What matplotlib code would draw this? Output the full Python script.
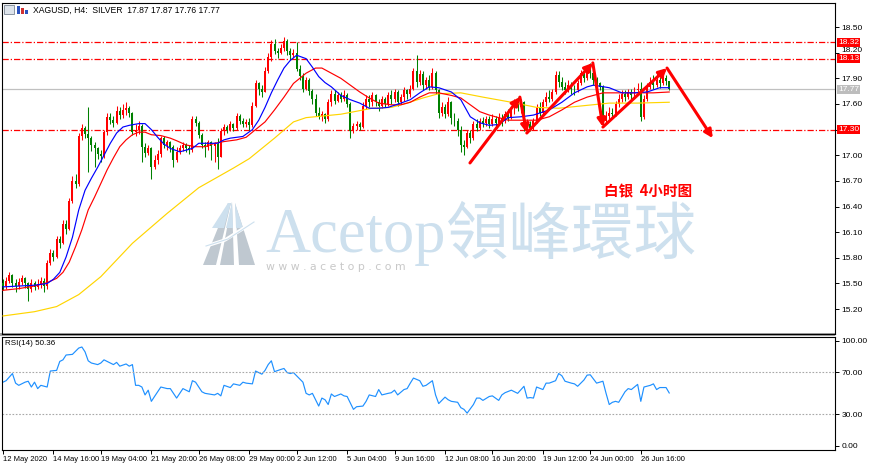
import numpy as np
import matplotlib.pyplot as plt
import matplotlib.transforms as mtransforms
from matplotlib.patches import Polygon, Rectangle

plt.rcParams['font.family'] = ['Liberation Sans', 'DejaVu Sans', 'Noto Sans CJK SC']

# ---- H4 candles (bar index 0 = 12 May 2020 00:00) ----
first_open = 15.50
closes = [
    15.47, 15.53, 15.60, 15.51, 15.47, 15.52, 15.56, 15.50, 15.44, 15.50,
    15.46, 15.49, 15.53, 15.47, 15.74, 15.86, 15.81, 16.02, 15.97, 16.20,
    16.14, 16.46, 16.70, 16.66, 17.22, 17.32, 17.25, 17.20, 17.12, 17.08,
    17.02, 16.99, 17.27, 17.45, 17.41, 17.38, 17.52, 17.47, 17.53, 17.55,
    17.49, 17.27, 17.30, 17.34, 17.10, 17.03, 17.08, 16.86, 16.95, 17.02,
    17.20, 17.12, 17.15, 17.10, 16.95, 17.04, 17.08, 17.12, 17.08, 17.06,
    17.42, 17.38, 17.24, 17.12, 17.10, 17.15, 17.11, 17.13, 16.98, 17.28,
    17.33, 17.30, 17.37, 17.32, 17.46, 17.40, 17.37, 17.39, 17.35, 17.58,
    17.84, 17.78, 17.74, 17.99, 18.15, 18.30, 18.22, 18.20, 18.26, 18.34,
    18.22, 18.17, 18.20, 18.01, 17.93, 17.78, 17.88, 17.75, 17.66, 17.50,
    17.46, 17.48, 17.42, 17.62, 17.72, 17.64, 17.70, 17.66, 17.70, 17.60,
    17.28, 17.34, 17.36, 17.33, 17.58, 17.66, 17.62, 17.70, 17.62, 17.58,
    17.66, 17.60, 17.70, 17.66, 17.74, 17.62, 17.68, 17.76, 17.72, 17.78,
    17.98, 17.86, 17.95, 17.82, 17.88, 17.80, 17.96, 17.76, 17.50, 17.56,
    17.48, 17.62, 17.44, 17.40, 17.30, 17.12, 17.10, 17.26, 17.20, 17.36,
    17.32, 17.40, 17.38, 17.42, 17.36, 17.42, 17.38, 17.44, 17.40, 17.48,
    17.44, 17.52, 17.60, 17.56, 17.62, 17.32, 17.36, 17.32, 17.40, 17.56,
    17.50, 17.62, 17.68, 17.66, 17.74, 17.94, 17.86, 17.80, 17.76, 17.82,
    17.78, 17.76, 17.84, 17.96, 17.90, 18.00, 17.96, 17.88, 17.84, 17.80,
    17.40, 17.46, 17.50, 17.48, 17.60, 17.66, 17.72, 17.68, 17.74, 17.70,
    17.76, 17.78, 17.45, 17.66, 17.80, 17.86, 17.82, 17.88, 17.84, 17.90,
    17.87, 17.77]
highs = [
    15.55, 15.58, 15.63, 15.61, 15.55, 15.56, 15.60, 15.58, 15.52, 15.55,
    15.53, 15.55, 15.58, 15.56, 15.78, 15.90, 15.89, 16.06, 16.05, 16.24,
    16.24, 16.50, 16.76, 16.78, 17.26, 17.36, 17.34, 17.56, 17.22, 17.16,
    17.10, 17.06, 17.30, 17.50, 17.50, 17.46, 17.58, 17.56, 17.60, 17.62,
    17.58, 17.51, 17.36, 17.40, 17.36, 17.14, 17.12, 17.10, 17.00, 17.06,
    17.23, 17.22, 17.18, 17.17, 17.12, 17.10, 17.12, 17.15, 17.14, 17.12,
    17.46, 17.46, 17.40, 17.26, 17.15, 17.18, 17.17, 17.16, 17.20, 17.32,
    17.36, 17.35, 17.40, 17.38, 17.49, 17.48, 17.43, 17.42, 17.43, 17.62,
    17.88, 17.86, 17.82, 18.03, 18.20, 18.35, 18.36, 18.26, 18.30, 18.38,
    18.36, 18.25, 18.24, 18.32, 18.05, 17.96, 17.92, 17.90, 17.78, 17.72,
    17.56, 17.52, 17.50, 17.66, 17.76, 17.76, 17.74, 17.74, 17.76, 17.73,
    17.62, 17.38, 17.40, 17.39, 17.62, 17.70, 17.70, 17.74, 17.72, 17.66,
    17.69, 17.68, 17.74, 17.76, 17.78, 17.76, 17.72, 17.80, 17.78, 17.82,
    18.02, 18.17, 18.00, 17.98, 17.92, 17.94, 18.02, 17.98, 17.78, 17.62,
    17.60, 17.68, 17.64, 17.50, 17.44, 17.34, 17.18, 17.30, 17.30, 17.40,
    17.42, 17.44, 17.45, 17.46, 17.46, 17.48, 17.46, 17.50, 17.48, 17.52,
    17.54, 17.56, 17.66, 17.68, 17.66, 17.64, 17.42, 17.40, 17.44, 17.60,
    17.62, 17.66, 17.74, 17.76, 17.78, 17.98, 17.98, 17.92, 17.86, 17.88,
    17.86, 17.82, 17.88, 18.00, 18.02, 18.04, 18.08, 18.00, 17.92, 17.86,
    17.82, 17.52, 17.56, 17.55, 17.64, 17.72, 17.76, 17.76, 17.78, 17.78,
    17.80, 17.84, 17.86, 17.70, 17.84, 17.92, 17.94, 17.96, 17.92, 17.95,
    17.94, 17.87]
lows = [
    15.42, 15.44, 15.50, 15.46, 15.40, 15.44, 15.48, 15.45, 15.30, 15.40,
    15.42, 15.43, 15.45, 15.40, 15.44, 15.72, 15.76, 15.80, 15.92, 15.96,
    16.08, 16.12, 16.44, 16.62, 16.64, 17.18, 17.20, 16.80, 17.05, 16.86,
    16.96, 16.92, 16.97, 17.24, 17.36, 17.33, 17.36, 17.42, 17.44, 17.47,
    17.45, 17.24, 17.22, 17.25, 16.92, 16.98, 17.00, 16.72, 16.84, 16.90,
    16.98, 17.08, 17.06, 17.04, 16.86, 16.92, 17.02, 17.05, 17.04, 17.02,
    17.04, 17.34, 17.20, 17.08, 16.98, 17.06, 16.95, 16.92, 16.84, 16.98,
    17.24, 17.26, 17.28, 17.28, 17.30, 17.36, 17.33, 17.33, 17.30, 17.33,
    17.56, 17.70, 17.68, 17.74, 17.96, 18.10, 18.18, 18.14, 18.18, 18.22,
    18.17, 18.12, 18.14, 17.98, 17.88, 17.74, 17.76, 17.70, 17.60, 17.46,
    17.42, 17.40, 17.38, 17.40, 17.58, 17.60, 17.62, 17.62, 17.64, 17.56,
    17.20, 17.26, 17.30, 17.29, 17.32, 17.54, 17.56, 17.58, 17.58, 17.52,
    17.55, 17.56, 17.58, 17.60, 17.62, 17.58, 17.60, 17.64, 17.66, 17.68,
    17.76, 17.80, 17.82, 17.76, 17.78, 17.76, 17.78, 17.72, 17.44, 17.46,
    17.44, 17.46, 17.36, 17.34, 17.22, 17.04, 17.00, 17.08, 17.14, 17.18,
    17.28, 17.30, 17.33, 17.34, 17.32, 17.34, 17.32, 17.36, 17.34, 17.38,
    17.40, 17.42, 17.48, 17.52, 17.50, 17.28, 17.30, 17.28, 17.30, 17.38,
    17.46, 17.48, 17.58, 17.62, 17.64, 17.72, 17.80, 17.76, 17.72, 17.74,
    17.72, 17.70, 17.74, 17.82, 17.86, 17.88, 17.90, 17.82, 17.78, 17.76,
    17.34, 17.38, 17.42, 17.44, 17.46, 17.56, 17.62, 17.64, 17.66, 17.66,
    17.68, 17.70, 17.40, 17.42, 17.64, 17.78, 17.78, 17.80, 17.79, 17.82,
    17.82, 17.76]
opens = [first_open] + closes[:-1]

# ---- moving averages (bar, price) ----
ma_blue_bars = [0, 5, 10, 14, 16, 18, 20, 22, 24, 26, 28, 30, 32, 34, 36, 38, 40, 43, 45,
                47, 49, 51, 53, 56, 60, 62, 65, 68, 70, 72, 76, 79, 81, 83, 85, 87, 89,
                91, 93, 96, 98, 100, 102, 104, 107, 110, 113, 116, 119, 122, 126, 129,
                132, 135, 138, 142, 145, 148, 151, 154, 157, 160, 164, 168, 173, 177,
                181, 185, 187, 192, 196, 200, 204, 208, 211]
ma_blue_vals = [15.46, 15.47, 15.48, 15.50, 15.55, 15.63, 15.81, 16.04, 16.36, 16.59,
                16.73, 16.86, 17.00, 17.14, 17.26, 17.33, 17.35, 17.37, 17.37, 17.30,
                17.21, 17.13, 17.08, 17.04, 17.08, 17.14, 17.14, 17.14, 17.18, 17.20,
                17.22, 17.30, 17.41, 17.56, 17.73, 17.88, 18.02, 18.11, 18.17, 18.13,
                18.03, 17.92, 17.85, 17.80, 17.70, 17.65, 17.61, 17.55, 17.55, 17.56,
                17.61, 17.65, 17.73, 17.80, 17.79, 17.74, 17.65, 17.45, 17.38, 17.35,
                17.36, 17.44, 17.45, 17.47, 17.53, 17.62, 17.73, 17.80, 17.82, 17.79,
                17.73, 17.73, 17.74, 17.79, 17.79]
ma_red_bars = [0, 5, 10, 14, 17, 19, 21, 23, 25, 27, 29, 31, 33, 35, 37, 39, 41, 43, 45,
               47, 50, 53, 55, 58, 61, 64, 67, 70, 74, 77, 80, 83, 86, 89, 92, 96, 99,
               101, 104, 107, 110, 113, 116, 119, 123, 126, 129, 132, 135, 138, 142,
               145, 148, 151, 154, 157, 160, 164, 169, 173, 177, 181, 185, 190, 194,
               198, 202, 206, 211]
ma_red_vals = [15.42, 15.44, 15.47, 15.51, 15.56, 15.63, 15.75, 15.93, 16.13, 16.36,
               16.51, 16.67, 16.83, 16.97, 17.10, 17.18, 17.24, 17.27, 17.27, 17.24,
               17.23, 17.20, 17.17, 17.12, 17.10, 17.10, 17.14, 17.16, 17.18, 17.21,
               17.30, 17.39, 17.53, 17.68, 17.84, 17.96, 18.02, 18.02, 17.96, 17.90,
               17.82, 17.74, 17.67, 17.61, 17.59, 17.59, 17.62, 17.68, 17.73, 17.73,
               17.70, 17.67, 17.59, 17.51, 17.47, 17.44, 17.41, 17.41, 17.41, 17.45,
               17.53, 17.62, 17.68, 17.73, 17.73, 17.73, 17.73, 17.73, 17.74]
ma_gold_bars = [0, 10, 17, 24, 31, 41, 52, 62, 73, 78, 86, 92, 96, 107, 117, 123, 128,
                133, 138, 145, 152, 161, 169, 176, 184, 192, 201, 211]
ma_gold_vals = [15.12, 15.17, 15.23, 15.37, 15.58, 15.97, 16.32, 16.62, 16.85, 16.96,
                17.20, 17.39, 17.44, 17.48, 17.55, 17.56, 17.61, 17.67, 17.72, 17.73,
                17.68, 17.62, 17.56, 17.55, 17.58, 17.61, 17.61, 17.62]

# ---- RSI(14) (bar, value) ----
rsi_bars = [0, 1, 3, 4, 5, 7, 8, 9, 10, 11, 12, 14, 15, 17, 18, 19, 20, 22, 23, 24, 25,
            26, 27, 28, 30, 31, 32, 34, 35, 36, 37, 39, 40, 41, 42, 43, 44, 45, 46, 47,
            48, 50, 52, 53, 55, 57, 59, 60, 61, 63, 64, 67, 68, 69, 70, 72, 73, 75, 76,
            77, 79, 80, 82, 83, 84, 85, 86, 88, 89, 90, 91, 92, 94, 95, 96, 97, 98, 100,
            101, 102, 103, 104, 105, 107, 108, 109, 111, 112, 114, 115, 116, 118, 119,
            120, 122, 123, 124, 125, 127, 128, 129, 130, 132, 133, 134, 136, 137, 138,
            140, 141, 142, 144, 145, 146, 147, 149, 150, 151, 152, 154, 155, 157, 158,
            159, 161, 162, 163, 165, 166, 167, 168, 169, 171, 172, 173, 175, 176, 177,
            178, 180, 181, 182, 184, 185, 186, 187, 188, 190, 191, 192, 193, 194, 195,
            197, 198, 199, 201, 202, 203, 205, 206, 207, 208, 210, 211]
rsi_vals = [60.6, 62.0, 68.8, 59.7, 57.6, 60.6, 61.5, 56.0, 60.6, 54.5, 57.6, 56.0, 71.2,
            71.8, 80.3, 81.8, 86.4, 87.0, 90.0, 93.0, 94.0, 89.4, 80.9, 78.8, 77.3, 78.8,
            81.8, 78.8, 77.3, 79.4, 75.8, 77.9, 75.8, 77.3, 57.6, 57.6, 56.0, 48.5, 53.0,
            42.4, 47.0, 56.0, 54.5, 54.5, 45.5, 54.5, 51.5, 62.0, 60.6, 51.5, 50.0, 48.5,
            50.0, 47.6, 57.6, 55.5, 59.0, 57.6, 60.6, 59.7, 59.0, 71.2, 68.2, 71.8, 77.3,
            80.9, 70.6, 72.7, 73.6, 69.7, 68.8, 69.7, 63.6, 60.6, 50.0, 48.5, 50.0, 37.9,
            45.5, 43.9, 39.4, 49.4, 47.0, 49.4, 47.6, 47.0, 34.8, 37.3, 37.9, 42.4, 48.5,
            47.0, 53.6, 48.5, 50.0, 50.6, 53.0, 48.5, 53.6, 54.5, 59.7, 64.5, 62.0, 56.7,
            57.6, 62.0, 48.5, 40.3, 46.4, 43.9, 42.4, 41.5, 36.4, 34.8, 31.2, 39.4, 45.5,
            45.5, 43.3, 47.0, 47.6, 43.3, 48.5, 50.6, 53.0, 51.5, 50.0, 56.7, 45.5, 46.0,
            45.5, 56.0, 53.6, 59.7, 59.7, 62.0, 68.8, 66.7, 61.5, 59.7, 59.0, 56.7, 62.7,
            67.3, 67.6, 63.6, 59.7, 61.5, 50.0, 39.4, 41.5, 42.4, 41.5, 51.5, 54.5, 53.6,
            58.5, 42.4, 56.0, 57.6, 59.0, 53.6, 55.5, 55.5, 50.36]

date_ticks = [0, 16, 31, 47, 62, 78, 93, 109, 124, 140, 155, 171, 186, 202]
date_labels = ['12 May 2020', '14 May 16:00', '19 May 04:00', '21 May 20:00',
               '26 May 08:00', '29 May 00:00', '2 Jun 12:00', '5 Jun 04:00',
               '9 Jun 16:00', '12 Jun 08:00', '16 Jun 20:00', '19 Jun 12:00',
               '24 Jun 00:00', '26 Jun 16:00']
price_ticks = [18.50, 18.20, 17.90, 17.60, 17.30, 17.00, 16.70, 16.40, 16.10,
               15.80, 15.50, 15.20]
levels = [18.32, 18.13, 17.30]
last_price = 17.77
# hand-drawn zigzag arrows (bar, price)
arrow_bars = [147.9, 163.7, 165.9, 186.8, 190.0, 210.3, 224.8]
arrow_prices = [16.91, 17.68, 17.26, 18.08, 17.33, 18.02, 17.20]

W, H = 870, 468
fig = plt.figure(figsize=(W / 100, H / 100), dpi=100)
fig.patch.set_facecolor('white')

# pixel-space overlay for watermark and header decorations
wm = fig.add_axes([0, 0, 1, 1], zorder=0)
wm.set_xlim(0, W)
wm.set_ylim(H, 0)
wm.axis('off')

ax = fig.add_axes([2 / W, 1 - 334 / H, 833 / W, 331 / H], zorder=2)
rx = fig.add_axes([2 / W, 1 - 450 / H, 833 / W, 113 / H], zorder=2)
for a in (ax, rx):
    a.set_facecolor('none')
    for s in a.spines.values():
        s.set_linewidth(0.8)
        s.set_color('black')
    a.set_xlim(-0.3, 263.5)
    a.yaxis.tick_right()
    a.tick_params(axis='y', direction='out', length=3, width=0.7, labelsize=6, pad=1.5)

# ---- candles ----
x = np.arange(len(closes))
o = np.array(opens)
c = np.array(closes)
cols = np.where(c >= o, '#ff0000', '#008000')
ax.vlines(x, lows, highs, colors=cols, lw=0.75, zorder=3)
ax.bar(x, np.maximum(np.abs(c - o), 0.008), bottom=np.minimum(o, c), width=0.62,
       color=cols, linewidth=0, zorder=3)

ax.plot(ma_gold_bars, ma_gold_vals, color='#ffd500', lw=0.85, zorder=4)
ax.plot(ma_red_bars, ma_red_vals, color='#ff0000', lw=0.85, zorder=4)
ax.plot(ma_blue_bars, ma_blue_vals, color='#0000ff', lw=0.85, zorder=4)

ax.axhline(last_price, color='#c0c0c0', lw=0.9, zorder=2)
for lv in levels:
    ax.axhline(lv, color='#ff0000', lw=0.9, dashes=(5, 1.6, 1, 1.6), zorder=2)

for i in range(len(arrow_bars) - 1):
    ax.annotate('', xy=(arrow_bars[i + 1], arrow_prices[i + 1]),
                xytext=(arrow_bars[i], arrow_prices[i]),
                arrowprops=dict(arrowstyle='-|>', color='#ff0000', lw=2.2,
                                mutation_scale=12, shrinkA=0, shrinkB=0),
                zorder=6)

ax.set_ylim(14.909, 18.781)
ax.set_yticks(price_ticks)
ax.set_yticklabels(['' if abs(p - 17.30) < 1e-6 else '%.2f' % p for p in price_ticks])
ax.set_xticks([])
# the 18.20 label sits just above the 18.13 marker box, as in the terminal
lift = mtransforms.ScaledTranslation(0, 2.2 / 72, fig.dpi_scale_trans)
for lab in ax.get_yticklabels():
    if lab.get_text() == '18.20':
        lab.set_transform(lab.get_transform() + lift)

trans = mtransforms.blended_transform_factory(ax.transAxes, ax.transData)
for lv in levels:
    ax.text(1.0 + 3 / 833, lv, '%.2f' % lv, transform=trans, ha='left', va='center',
            fontsize=6, color='white', zorder=7,
            bbox=dict(boxstyle='square,pad=0.12', fc='#ff0000', ec='none'))
ax.text(1.0 + 3 / 833, last_price, '%.2f' % last_price, transform=trans, ha='left',
        va='center', fontsize=6, color='white', zorder=7,
        bbox=dict(boxstyle='square,pad=0.12', fc='#bdbdbd', ec='none'))

# ---- RSI panel ----
rx.plot(rsi_bars, rsi_vals, color='#1e90ff', lw=0.85)
for lv in (70, 30):
    rx.axhline(lv, color='#a8a8a8', lw=0.8, dashes=(1.5, 1.5))
rx.set_ylim(-3.8, 103.5)
rx.set_yticks([100, 70, 30, 0])
rx.set_yticklabels(['100.00', '70.00', '30.00', '0.00'])
rx.set_xticks(date_ticks)
rx.set_xticklabels(date_labels, ha='left')
rx.tick_params(axis='x', direction='out', length=3, width=0.7, labelsize=5.5, pad=1.5)
rx.text(0.004, 0.945, 'RSI(14) 50.36', transform=rx.transAxes, fontsize=5.8,
        ha='left', va='center')

# separator band between panels
wm.add_patch(Rectangle((0, 333), 835, 3, color='#a0a0a0', lw=0, zorder=5))

# ---- header ----
wm.add_patch(Rectangle((4, 5), 10, 9, fc='#dde3ea', ec='#7a8594', lw=0.6))
wm.add_patch(Rectangle((17, 6), 3, 8, fc='#2a52be', lw=0))
wm.add_patch(Rectangle((21, 8), 3, 6, fc='#d03030', lw=0))
wm.add_patch(Rectangle((25, 10), 3, 4, fc='#2a52be', lw=0))
wm.text(33, 10, 'XAGUSD, H4:  SILVER  17.87 17.87 17.76 17.77', fontsize=6.2,
        ha='left', va='center')

# ---- watermark ----
wm_blue = '#cde0ee'
wm_grey = '#bfc8d0'
wm.add_patch(Polygon([(203, 265), (216, 265), (231, 203), (228, 203)], fc=wm_grey, lw=0))
wm.add_patch(Polygon([(220, 265), (234, 265), (232, 202)], fc=wm_grey, lw=0))
wm.add_patch(Polygon([(239, 265), (255, 265), (235, 203)], fc=wm_grey, lw=0))
wm.add_patch(Polygon([(212, 228), (224, 228), (231, 203), (228, 203)], fc=wm_blue, lw=0))
wm.add_patch(Polygon([(226, 228), (233, 228), (232, 202)], fc=wm_blue, lw=0))
wm.add_patch(Polygon([(243, 228), (236, 228), (235, 203)], fc=wm_blue, lw=0))
wm.plot([203, 225, 252], [247, 240, 223], color='white', lw=2.4)
wm.plot([206, 228, 254], [246, 239, 222], color=wm_blue, lw=0.8)

t_main = wm.text(265, 252, 'Acetop', family='Liberation Serif', fontsize=45,
                 color=wm_blue, ha='left', va='baseline')
fig.canvas.draw()
bb = t_main.get_window_extent()
cjk_x = wm.transData.inverted().transform((bb.x1 + 1, 0))[0]
wm.text(cjk_x, 236, '領峰環球', family=['Noto Sans CJK TC'], fontsize=45, color=wm_blue,
        ha='left', va='center')
wm.text(266, 267, 'w w w . a c e t o p . c o m', fontsize=7.8, color='#c8c8c8',
        ha='left', va='center', family='DejaVu Sans')

# caption
wm.text(648, 191, '白银  4小时图', ha='center', va='center', fontsize=10.5,
        color='#ff0000', fontweight='bold', family=['Noto Sans CJK SC', 'DejaVu Sans'])

fig.savefig('out.png', dpi=100)
